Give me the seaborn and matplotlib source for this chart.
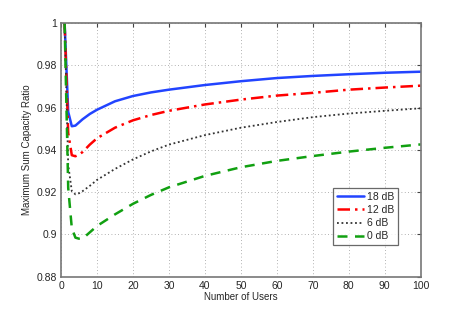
import matplotlib
matplotlib.use("Agg")
import matplotlib.pyplot as plt
import seaborn as sns
import pandas as pd

users = [1, 2, 3, 4, 5, 6, 8, 10, 15, 20, 25, 30, 40, 50, 60, 70, 80, 90, 100]
snr_18 = [1.0, 0.958, 0.9512, 0.9515, 0.953, 0.9545, 0.957, 0.959, 0.963, 0.9655, 0.9672, 0.9685,
          0.9707, 0.9725, 0.974, 0.975, 0.9758, 0.9765, 0.977]
snr_12 = [1.0, 0.948, 0.9375, 0.937, 0.9378, 0.939, 0.9425, 0.9455, 0.9505, 0.954, 0.9565, 0.9585,
          0.9615, 0.9638, 0.9657, 0.967, 0.9685, 0.9695, 0.9704]
snr_6 = [1.0, 0.933, 0.9205, 0.919, 0.9195, 0.9205, 0.923, 0.9258, 0.931, 0.9355, 0.9393, 0.9425,
         0.947, 0.9505, 0.9532, 0.9555, 0.9572, 0.9585, 0.9597]
snr_0 = [1.0, 0.922, 0.903, 0.8985, 0.898, 0.898, 0.901, 0.904, 0.9095, 0.9145, 0.9187, 0.9223,
         0.9277, 0.9318, 0.9348, 0.9371, 0.9392, 0.941, 0.9426]
series_labels = ["18 dB", "12 dB", "6 dB", "0 dB"]
x_ticks = [0, 10, 20, 30, 40, 50, 60, 70, 80, 90, 100]
y_ticks = [0.88, 0.9, 0.92, 0.94, 0.96, 0.98, 1.0]
y_tick_labels = ["0.88", "0.9", "0.92", "0.94", "0.96", "0.98", "1"]

sns.set_style("white")
plt.rcParams['font.family'] = ['Liberation Sans', 'DejaVu Sans']

rows = []
for lab, vals in zip(series_labels, [snr_18, snr_12, snr_6, snr_0]):
    for u, v in zip(users, vals):
        rows.append({"Users": u, "Ratio": v, "SNR": lab})
df = pd.DataFrame(rows)

fig = plt.figure(figsize=(4.64, 3.12), dpi=100)
ax = fig.add_axes([0.1315, 0.113, 0.7752, 0.813])

styles = {
    "18 dB": dict(color="#2244ff", ls="-", lw=1.8),
    "12 dB": dict(color="#ff0000", ls=(0, (5, 2, 1, 2)), lw=1.8),
    "6 dB": dict(color="#333333", ls=(0, (1, 1.5)), lw=1.3),
    "0 dB": dict(color="#11a011", ls=(0, (4, 3)), lw=1.8),
}
for lab in series_labels:
    st = styles[lab]
    sns.lineplot(data=df[df.SNR == lab], x="Users", y="Ratio", ax=ax, label=lab,
                 color=st["color"], linestyle=st["ls"], linewidth=st["lw"])

ax.set_xlim(0, 100)
ax.set_ylim(0.88, 1.0)
ax.set_xticks(x_ticks)
ax.set_yticks(y_ticks)
ax.set_yticklabels(y_tick_labels)
ax.set_xlabel("Number of Users", fontsize=7, labelpad=1)
ax.set_ylabel("Maximum Sum Capacity Ratio", fontsize=7, labelpad=3)
ax.tick_params(direction="in", top=True, right=True, labelsize=7.5, length=3,
               color="#444444", pad=3)
ax.grid(True, ls=(0, (1, 3)), color="#999999", lw=0.6)
for s in ax.spines.values():
    s.set_color("#777777")
    s.set_linewidth(1.2)

leg = ax.legend(loc="lower right", bbox_to_anchor=(0.937, 0.125), fontsize=7.5,
                frameon=True, fancybox=False, handlelength=2.6, handletextpad=0.3,
                borderpad=0.35, labelspacing=0.3, borderaxespad=0)
leg.get_frame().set_edgecolor("#444444")
leg.get_frame().set_linewidth(0.9)

fig.savefig("out.png", dpi=100)
